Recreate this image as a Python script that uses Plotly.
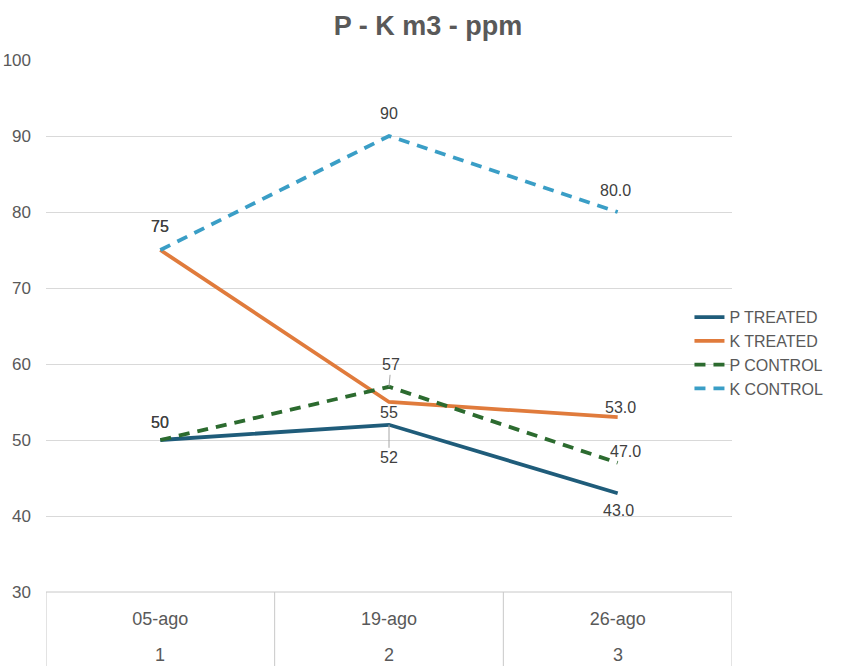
import plotly.graph_objects as go

# Sampling dates and sample numbers (two-row category axis)
dates = ["05-ago", "19-ago", "26-ago"]
sample_no = ["1", "2", "3"]

# Series values (ppm)
p_treated = [50, 52, 43]
k_treated = [75, 55, 53]
p_control = [50, 57, 47]
k_control = [75, 90, 80]

series_names = ["P TREATED", "K TREATED", "P CONTROL", "K CONTROL"]
series_values = [p_treated, k_treated, p_control, k_control]

# Styles
colors = ["#1F5C7A", "#E07B3C", "#2C6B2F", "#3A9EC6"]
dashes = ["solid", "solid", "11px,8px", "11px,8px"]
# number format used by the value labels of each sample column
label_fmt = ["{:.0f}", "{:.0f}", "{:.1f}"]
# label placement (dx, dy in px from the point; leader = draw connector line)
label_pos = [
    [(0, -18, False), (0, 33, True), (1, 17, False)],
    [(0, -24, False), (0, 10, False), (3, -10, False)],
    [(0, -18, False), (2, -22, True), (8, -11, False)],
    [(0, -24, False), (0, -23, False), (-2, -22, False)],
]

x_idx = list(range(1, len(dates) + 1))
TXT = "#595959"
FONT = "Liberation Sans, Arial, sans-serif"

fig = go.Figure()
for name, vals, col, dash in zip(series_names, series_values, colors, dashes):
    fig.add_trace(go.Scatter(
        x=x_idx, y=vals, mode="lines", name=name,
        line=dict(color=col, width=3.8, dash=dash),
    ))

annotations = []
for s, vals in enumerate(series_values):
    for i, v in enumerate(vals):
        dx, dy, leader = label_pos[s][i]
        txt = label_fmt[i].format(v)
        if leader:
            annotations.append(dict(
                x=x_idx[i], y=v, xref="x", yref="y", text=txt,
                showarrow=True, arrowhead=0, arrowwidth=1, arrowcolor="#A6A6A6",
                ax=dx, ay=dy, standoff=0,
                font=dict(size=16, color="#404040", family=FONT),
            ))
        else:
            annotations.append(dict(
                x=x_idx[i], y=v, xref="x", yref="y", text=txt,
                showarrow=False, xshift=dx, yshift=-dy,
                font=dict(size=16, color="#404040", family=FONT),
            ))

# second row of the category axis: sample number
for i, n in enumerate(sample_no):
    annotations.append(dict(
        x=x_idx[i], y=-0.1184, xref="x", yref="paper", text=n,
        showarrow=False, yanchor="middle",
        font=dict(size=18, color=TXT, family=FONT),
    ))

# table-style grid under the plot: top rule and column separators
grid_col = "#C8C8C8"
shapes = [dict(type="line", xref="x", yref="paper", x0=0.5, x1=len(dates) + 0.5,
               y0=0, y1=0, line=dict(color=grid_col, width=1))]
for b in range(len(dates) + 1):
    shapes.append(dict(type="line", xref="x", yref="paper", x0=b + 0.5, x1=b + 0.5,
                       y0=0, y1=-0.2, line=dict(color=grid_col, width=1)))

fig.update_layout(
    width=856, height=666,
    margin=dict(l=46, r=124, t=60, b=74),
    paper_bgcolor="white", plot_bgcolor="white",
    title=dict(text="<b>P - K m3 - ppm</b>", x=0.5, xanchor="center", y=0.962,
               yanchor="middle", font=dict(size=27, color=TXT, family=FONT)),
    font=dict(family=FONT, color=TXT),
    xaxis=dict(range=[0.5, len(dates) + 0.5], tickmode="array", tickvals=x_idx,
               ticktext=dates, showgrid=False, zeroline=False, showline=False,
               automargin=False,
               tickfont=dict(size=18, color=TXT), ticklabelstandoff=14),
    yaxis=dict(range=[30, 100], dtick=10, showgrid=True, gridcolor="#D9D9D9",
               gridwidth=1, zeroline=False, showline=False, automargin=False,
               tickfont=dict(size=17, color=TXT), ticklabelstandoff=14),
    legend=dict(x=0.938, xanchor="left", y=0.449, yanchor="middle",
                font=dict(size=16, color=TXT, family=FONT),
                bgcolor="rgba(0,0,0,0)", tracegroupgap=0),
    annotations=annotations,
    shapes=shapes,
)

fig.write_html("out.html")
